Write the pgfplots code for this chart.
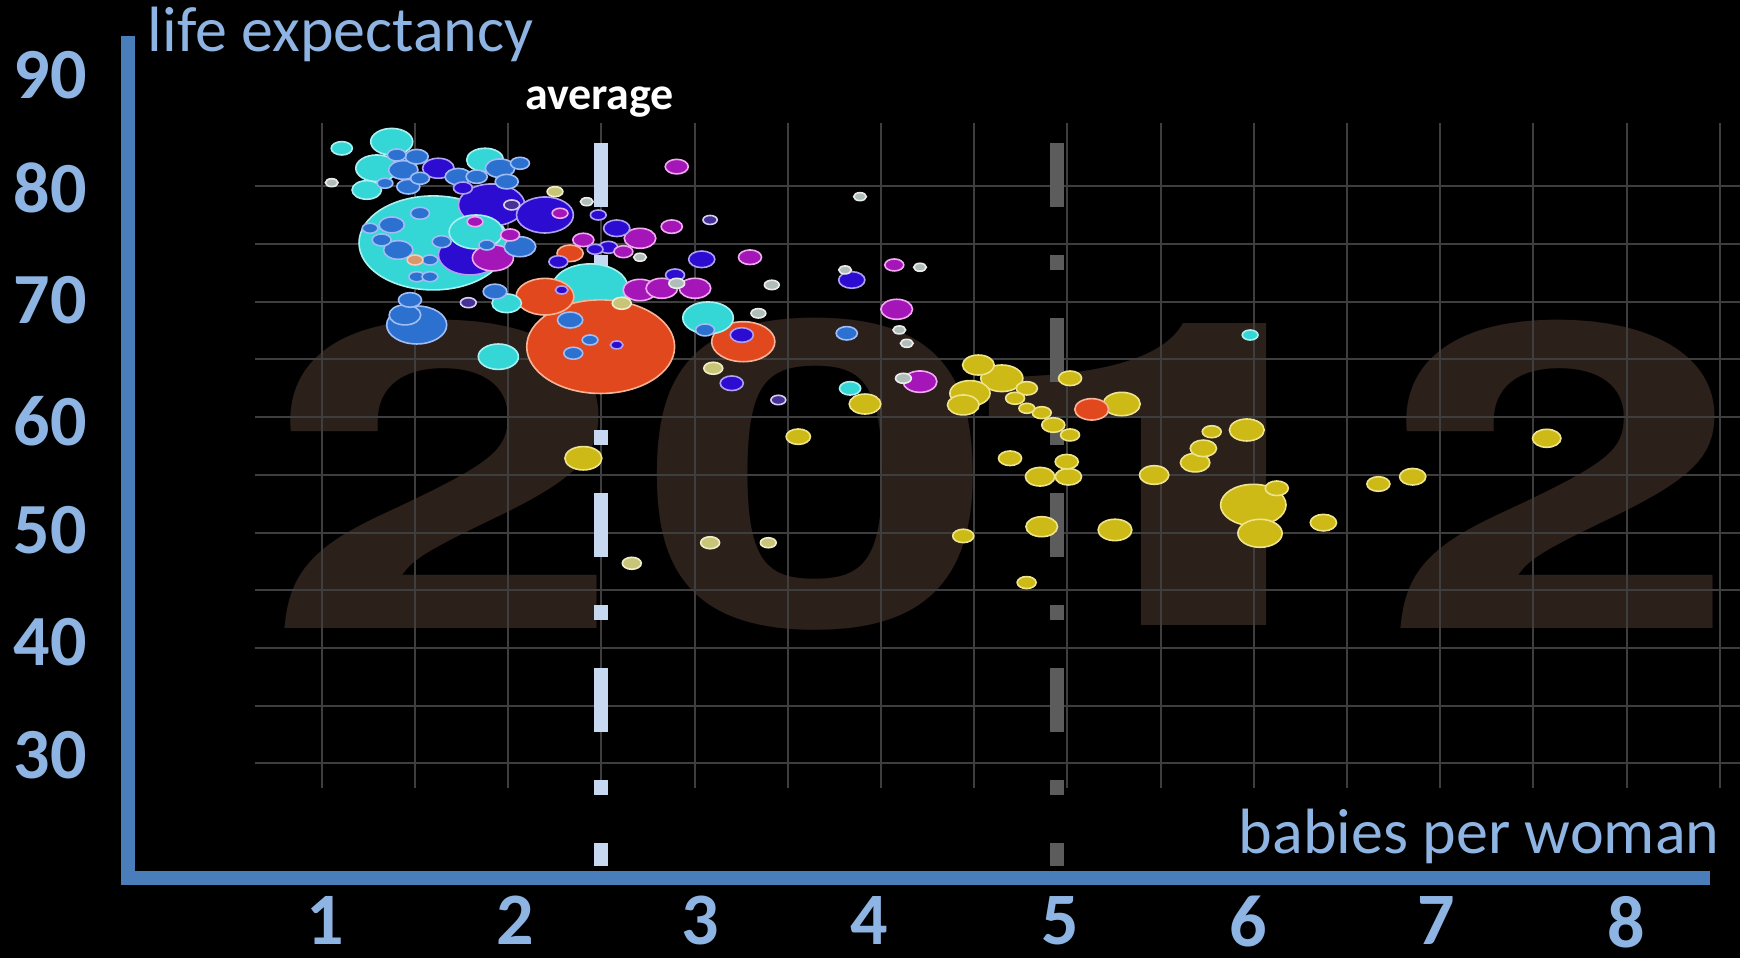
\documentclass[border=0pt]{standalone}
\usepackage{fontspec}
\setmainfont{Carlito}
\newfontfamily\wmfont{TeX Gyre Heros}
\usepackage{pgfplots}
\pgfplotsset{compat=1.18}
\usepackage{pgfplotstable}

\definecolor{wm}{RGB}{44,32,27}
\definecolor{gridc}{RGB}{62,62,62}
\definecolor{lab}{RGB}{141,180,226}
\definecolor{axb}{RGB}{74,126,187}
\definecolor{avg}{RGB}{198,217,241}
\definecolor{dgray}{RGB}{92,92,92}
\definecolor{fcy}{RGB}{52,214,214}   \definecolor{ecy}{RGB}{170,240,240}
\definecolor{fbl}{RGB}{44,112,208}   \definecolor{ebl}{RGB}{160,190,245}
\definecolor{fib}{RGB}{44,12,208}    \definecolor{eib}{RGB}{175,160,245}
\definecolor{fpu}{RGB}{165,22,185}   \definecolor{epu}{RGB}{240,170,240}
\definecolor{fog}{RGB}{226,72,30}    \definecolor{eog}{RGB}{248,180,150}
\definecolor{fye}{RGB}{205,186,22}   \definecolor{eye}{RGB}{238,228,140}
\definecolor{fpy}{RGB}{200,196,120}  \definecolor{epy}{RGB}{240,238,200}
\definecolor{fpa}{RGB}{175,190,185}  \definecolor{epa}{RGB}{235,235,235}
\definecolor{fpl}{RGB}{70,50,150}    \definecolor{epl}{RGB}{215,205,245}
\definecolor{fpo}{RGB}{220,150,110}  \definecolor{epo}{RGB}{245,205,180}

\pgfplotstableread{
x y r c
2.439 71.20 12 cy
2.496 66.11 23.4 og
1.598 75.10 23.5 cy
1.911 78.39 10.5 ib
2.197 77.52 9 ib
1.795 74.06 10 ib
3.261 66.54 10 og
1.509 67.99 9.5 bl
5.997 52.39 10.35 ye
2.197 70.44 9.15 og
1.827 76.05 8.5 cy
3.072 68.60 8 cy
6.033 49.94 7 ye
1.918 73.80 6.5 pu
1.375 83.87 6.65 cy
1.295 81.57 6.65 cy
4.648 63.37 6.65 ye
4.477 62.07 6.35 ye
1.947 65.24 6.35 cy
1.876 82.29 5.85 cy
2.403 56.44 5.85 ye
5.291 61.14 5.85 ye
5.962 58.89 5.5 ye
2.707 71.02 5.35 pu
2.824 71.17 5 pu
3.002 71.17 5 pu
5.130 60.68 5.35 og
5.255 50.23 5.35 ye
1.625 81.57 5 ib
2.707 75.50 5 pu
4.084 69.35 5 pu
3.914 61.14 5 ye
4.522 64.52 5 ye
4.441 61.06 5 ye
4.862 50.51 5 ye
4.209 63.08 5.35 pu
1.446 68.86 5 bl
2.063 74.77 5 bl
1.437 81.42 4.65 bl
1.241 79.69 4.65 cy
1.956 81.57 4.65 bl
1.410 74.49 4.65 bl
1.992 69.87 4.65 cy
4.853 54.84 4.65 ye
5.465 54.99 4.65 ye
5.685 56.06 4.65 ye
7.571 58.17 4.5 ye
1.732 80.84 4.15 bl
2.582 76.37 4.15 ib
3.038 73.68 4.15 ib
2.332 74.20 4.15 og
1.375 76.66 4 bl
3.843 71.89 4.15 ib
5.005 54.84 4.15 ye
5.729 57.30 4.15 ye
6.373 50.86 4.15 ye
6.852 54.84 4.15 ye
1.929 70.88 3.75 bl
1.509 82.57 3.65 bl
1.464 79.97 3.65 bl
1.992 80.41 3.65 bl
1.473 70.16 3.65 bl
2.904 81.71 3.65 pu
3.297 73.86 3.65 pu
3.253 67.12 3.65 ib
3.199 62.94 3.65 ib
4.692 56.44 3.65 ye
4.996 56.14 3.65 ye
4.924 59.32 3.65 ye
5.014 63.37 3.65 ye
6.123 53.84 3.65 ye
6.668 54.21 3.65 ye
3.556 58.31 3.85 ye
1.107 83.30 3.35 cy
1.831 80.84 3.35 bl
2.877 76.51 3.35 pu
2.403 75.36 3.35 pu
3.816 67.27 3.35 bl
3.834 62.50 3.35 cy
4.782 62.50 3.35 ye
4.441 49.71 3.35 ye
1.402 82.72 3 bl
2.063 82.00 3 bl
1.527 80.70 3 bl
1.757 79.86 3 ib
1.527 77.67 3 bl
1.321 75.36 3 bl
1.643 75.21 3 bl
2.010 75.79 3 pu
2.537 74.72 3 ib
2.618 74.34 3 pu
2.269 73.47 3 ib
2.895 72.32 3 ib
3.056 67.56 3 bl
2.349 65.54 3 bl
2.332 68.42 4 bl
2.609 69.87 3 py
3.100 64.24 3 py
4.071 73.19 3 pu
4.719 61.64 3 ye
4.862 60.39 3 ye
5.014 58.46 3 ye
5.774 58.74 3 ye
4.781 45.67 3 ye
3.083 49.12 3 py
2.663 47.34 3 py
3.395 49.12 2.5 py
2.251 79.54 2.5 py
1.339 80.27 2.5 bl
1.259 76.37 2.5 bl
1.580 73.62 2.5 bl
1.509 72.17 2.5 bl
1.580 72.17 2.5 bl
1.500 73.62 2.5 po
1.822 76.94 2.5 pu
1.885 74.92 2.5 bl
2.019 78.39 2.5 pl
2.278 77.67 2.5 pu
2.483 77.52 2.5 ib
2.466 74.55 2.5 ib
1.786 69.92 2.5 pl
2.904 71.60 2.5 pa
5.980 67.12 2.5 cy
2.287 71.02 2 ib
2.582 66.26 2 ib
2.439 66.69 2.5 bl
1.053 80.32 2 pa
2.421 78.67 2 pa
3.083 77.09 2.25 pl
2.707 73.86 2 pa
3.887 79.11 2 pa
3.414 71.46 2.35 pa
3.342 69.00 2.35 pa
3.807 72.76 2 pa
4.209 72.99 2 pa
4.098 67.56 2 pa
4.138 66.40 2 pa
3.449 61.49 2.35 pl
4.120 63.37 2.5 pa
4.782 60.77 2.5 ye
}\bubbles

\begin{document}
\begin{tikzpicture}
\useasboundingbox (-64pt,-40pt) rectangle (806pt,439pt);
\fill[black] (-64pt,-40pt) rectangle (806pt,439pt);
\begin{axis}[
  at={(0pt,0pt)}, anchor=south west,
  scale only axis, width=791pt, height=421pt,
  xmin=-0.0397, xmax=8.447, ymin=20.07, ymax=93.03,
  clip=false,
  axis line style={draw=none},
  tick style={draw=none}, major tick length=0pt,
  xtick={1.020,2.036,3.031,3.939,4.964,5.970,6.976,7.996},
  xticklabels={1,2,3,4,5,6,7,8},
  ytick={30.73,40.55,50.18,59.61,70.16,79.90,89.65},
  yticklabels={30,40,50,60,70,80,90},
  xticklabel style={font=\fontsize{37}{37}\selectfont\bfseries, text=lab, anchor=north, inner sep=0pt, yshift=-9pt},
  yticklabel style={font=\fontsize{36}{36}\selectfont\bfseries, text=lab, anchor=east, inner sep=0pt, xshift=-20.5pt},
  /pgf/number format/assume math mode=true,
]
% big 2012 watermark
\node[inner sep=0pt, text=wm] at (axis cs:1.666,55.03) {\scalebox{1.52}[1]{\wmfont\fontsize{213}{213}\selectfont\bfseries 2}};
\node[inner sep=0pt, text=wm] at (axis cs:3.662,55.03) {\scalebox{1.52}[1]{\wmfont\fontsize{213}{213}\selectfont\bfseries 0}};
\node[inner sep=0pt, text=wm] at (axis cs:5.588,55.03) {\scalebox{2.1}[1]{\wmfont\fontsize{213}{213}\selectfont\bfseries 1}};
\node[inner sep=0pt, text=wm] at (axis cs:7.648,55.03) {\scalebox{1.52}[1]{\wmfont\fontsize{213}{213}\selectfont\bfseries 2}};
% grid
\pgfplotsinvokeforeach{1,1.5,2,2.5,3,3.5,4,4.5,5,5.5,6,6.5,7,7.5,8,8.5}{
  \draw[gridc, line width=1pt] (axis cs:#1,27.9) -- (axis cs:#1,85.5);
}
\pgfplotsinvokeforeach{30,35,40,45,50,55,60,65,70,75,80}{
  \draw[gridc, line width=1pt] (axis cs:0.642,#1) -- (axis cs:8.61,#1);
}
% bubbles
\addplot[scatter, only marks, mark=*,
  point meta=explicit symbolic,
  scatter/classes={
    cy={fill=fcy, draw=ecy, line width=0.8pt},
    bl={fill=fbl, draw=ebl, line width=0.8pt},
    ib={fill=fib, draw=eib, line width=0.8pt},
    pu={fill=fpu, draw=epu, line width=0.8pt},
    og={fill=fog, draw=eog, line width=0.8pt},
    ye={fill=fye, draw=eye, line width=0.8pt},
    py={fill=fpy, draw=epy, line width=0.8pt},
    pa={fill=fpa, draw=epa, line width=0.8pt},
    pl={fill=fpl, draw=epl, line width=0.8pt},
    po={fill=fpo, draw=epo, line width=0.8pt}},
  mark options={xscale=1.58},
  visualization depends on={\thisrow{r} \as \bubr},
  scatter/@pre marker code/.append style={/tikz/mark size=\bubr},
] table[x=x, y=y, meta=c] {\bubbles};
% dashed reference lines
\draw[avg, line width=7pt, dash pattern=on 32pt off 24pt on 7.5pt off 24pt] (axis cs:2.5,83.76) -- (axis cs:2.5,21.11);
\draw[dgray, line width=7pt, dash pattern=on 32pt off 24pt on 7.5pt off 24pt] (axis cs:4.944,83.76) -- (axis cs:4.944,21.11);
% texts
\node[anchor=base, inner sep=0pt, text=white, font=\fontsize{23}{23}\selectfont\bfseries] at (axis cs:2.49,86.62) {average};
\node[anchor=base west, inner sep=0pt, text=lab, font=\fontsize{32}{32}\selectfont] at (axis cs:0.065,91.67) {life expectancy};
\node[anchor=base east, inner sep=0pt, text=lab, font=\fontsize{32}{32}\selectfont] at (axis cs:8.499,22.21) {babies per woman};
% axis L
\draw[axb, line width=7pt, line join=miter] (rel axis cs:0,1) -- (rel axis cs:0,0) -- (rel axis cs:1,0);
\end{axis}
\end{tikzpicture}
\end{document}
